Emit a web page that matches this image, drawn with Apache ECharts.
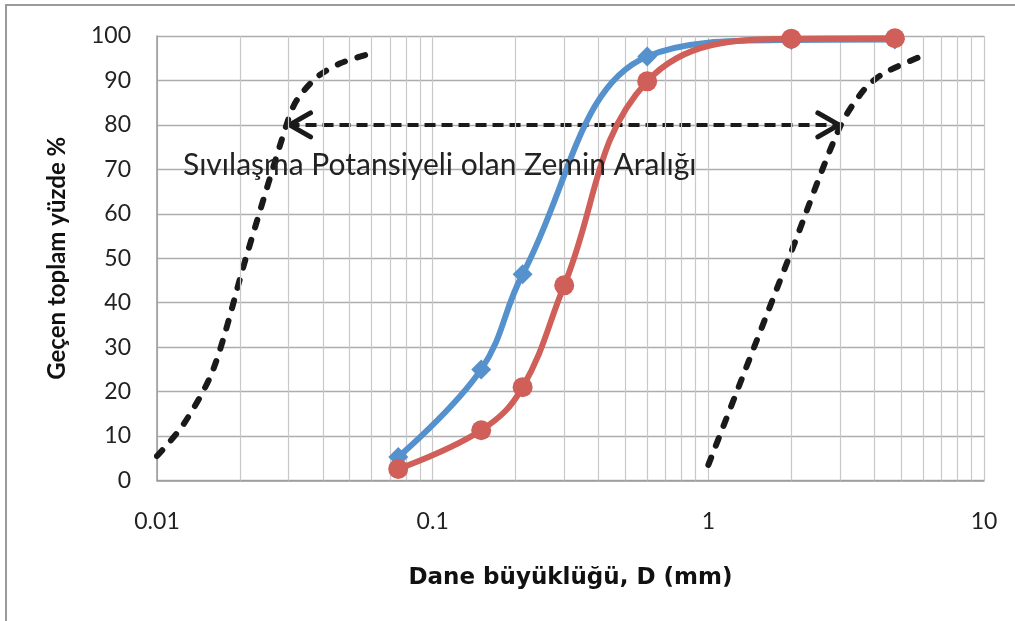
<!DOCTYPE html>
<html>
<head>
<meta charset="utf-8">
<script src="https://cdn.jsdelivr.net/npm/echarts@6/dist/echarts.min.js"></script>
<style>
html,body{margin:0;padding:0;background:#fff;}
#c{width:1015px;height:621px;}
</style>
</head>
<body>
<div id="c"></div>
<script>
// ---- data ----
const xTickLabels = ['0.01', '0.1', '1', '10'];
const yTicks = [0, 10, 20, 30, 40, 50, 60, 70, 80, 90, 100];

const sampleA_D = [0.075, 0.15, 0.212, 0.6, 2, 4.75];
const sampleA_P = [5.3, 25, 46.4, 95.4, 99.1, 99.2];

const sampleB_D = [0.075, 0.15, 0.212, 0.3, 0.6, 2, 4.75];
const sampleB_P = [2.6, 11.3, 21.0, 43.9, 89.8, 99.4, 99.5];

const leftBound_D = [0.01, 0.0125, 0.016, 0.021, 0.0296, 0.0321, 0.038, 0.046, 0.059];
const leftBound_P = [5.5, 12.7, 25, 50, 80.3, 85.5, 90.7, 93.8, 96];

const rightBound_D = [1, 2, 3, 3.66, 4.3, 5.8];
const rightBound_P = [3.5, 51.5, 79.5, 87.8, 91.5, 95.2];

const arrow_D = [0.03, 3];
const arrow_P = 80;

const annotation = 'Sıvılaşma Potansiyeli olan Zemin Aralığı';
const xTitle = 'Dane büyüklüğü, D (mm)';
const yTitle = 'Geçen toplam yüzde %';

// minor log grid positions (2..9 within each decade)
const minorGrid = [];
[0.01, 0.1, 1].forEach(d => { for (let k = 2; k <= 9; k++) minorGrid.push(+(d * k).toPrecision(3)); });

const zip = (a, b) => a.map((v, i) => [v, b[i]]);

const chart = echarts.init(document.getElementById('c'), null, {renderer: 'canvas'});
const black = '#1a1a1a';
const dashLine = {color: black, width: 6, type: [8, 13], cap: 'round', join: 'round'};

chart.setOption({
  backgroundColor: '#fff',
  animation: false,
  grid: {left: 157, right: 31, top: 36, bottom: 140.5},
  graphic: [
    {type: 'rect', shape: {x: 6, y: 5, width: 1100, height: 700},
     style: {fill: null, stroke: '#9a9a9a', lineWidth: 2}, silent: true, z: 0},
    {type: 'text', left: 183, top: 150,
     style: {text: annotation, font: '30px Lato', fill: '#222'}, z: 10}
  ],
  xAxis: {
    type: 'log', logBase: 10, min: 0.01, max: 10,
    name: xTitle, nameLocation: 'middle', nameGap: 86,
    nameTextStyle: {fontFamily: 'DejaVu Sans', fontWeight: 'bold', fontSize: 23, color: '#111'},
    axisLine: {show: true, lineStyle: {color: '#999', width: 1.5}},
    axisTick: {show: false},
    axisLabel: {
      margin: 30, fontFamily: 'Lato', fontSize: 23, color: '#222',
      formatter: function (v) {
        const i = Math.round(Math.log10(v) + 2);
        return xTickLabels[i] !== undefined ? xTickLabels[i] : '';
      }
    },
    splitLine: {show: true, lineStyle: {color: '#c8c8c8', width: 1.2}},
    minorTick: {show: false},
    minorSplitLine: {show: false}
  },
  yAxis: {
    type: 'value', min: 0, max: 100, interval: 10,
    name: yTitle, nameLocation: 'middle', nameGap: 88,
    nameTextStyle: {fontFamily: 'Lato', fontWeight: 'bold', fontSize: 24, color: '#111'},
    axisLine: {show: true, lineStyle: {color: '#999', width: 1.5}},
    axisTick: {show: false},
    axisLabel: {margin: 26, fontFamily: 'Lato', fontSize: 23, color: '#222',
      formatter: v => yTicks.indexOf(v) >= 0 ? String(v) : ''},
    splitLine: {show: true, lineStyle: {color: '#adadad', width: 1.3}}
  },
  series: [
    {
      type: 'line', data: [], silent: true, z: 1,
      markLine: {
        silent: true, symbol: 'none', animation: false,
        label: {show: false},
        lineStyle: {color: '#c8c8c8', width: 1.2, type: 'solid'},
        emphasis: {disabled: true},
        data: minorGrid.map(v => ({xAxis: v}))
      }
    },
    {
      name: 'left', type: 'line', data: zip(leftBound_D, leftBound_P),
      smooth: 0.3, showSymbol: false, symbol: 'none', lineStyle: dashLine, z: 3, silent: true
    },
    {
      name: 'right', type: 'line', data: zip(rightBound_D, rightBound_P),
      smooth: 0.3, showSymbol: false, symbol: 'none', lineStyle: dashLine, z: 3, silent: true
    },
    {
      name: 'arrowShaft', type: 'line', data: arrow_D.map(d => [d, arrow_P]),
      symbol: 'none', z: 3, silent: true,
      lineStyle: {color: black, width: 4, type: [11, 6]}
    },
    {
      name: 'arrowHeads', type: 'custom', z: 4, silent: true,
      data: [[arrow_D[0], arrow_P, 1], [arrow_D[1], arrow_P, -1]],
      renderItem: function (params, api) {
        const p = api.coord([api.value(0), api.value(1)]);
        const s = api.value(2);
        return {
          type: 'polyline',
          shape: {points: [[p[0] + s * 22, p[1] - 12], [p[0] + 1 * s, p[1]], [p[0] + s * 22, p[1] + 12]]},
          style: {stroke: black, lineWidth: 5, fill: null, lineCap: 'round', lineJoin: 'round'}
        };
      }
    },
    {
      name: 'A', type: 'line', data: zip(sampleA_D, sampleA_P), smooth: 0.4,
      symbol: 'diamond', symbolSize: 20, color: '#5591cc',
      lineStyle: {width: 6, color: '#5591cc'}, itemStyle: {color: '#5591cc'}, z: 5
    },
    {
      name: 'B', type: 'line', data: zip(sampleB_D, sampleB_P), smooth: 0.4,
      symbol: 'circle', symbolSize: 20, color: '#cf5f58',
      lineStyle: {width: 6, color: '#cf5f58'}, itemStyle: {color: '#cf5f58'}, z: 6
    }
  ]
});
</script>
</body>
</html>
